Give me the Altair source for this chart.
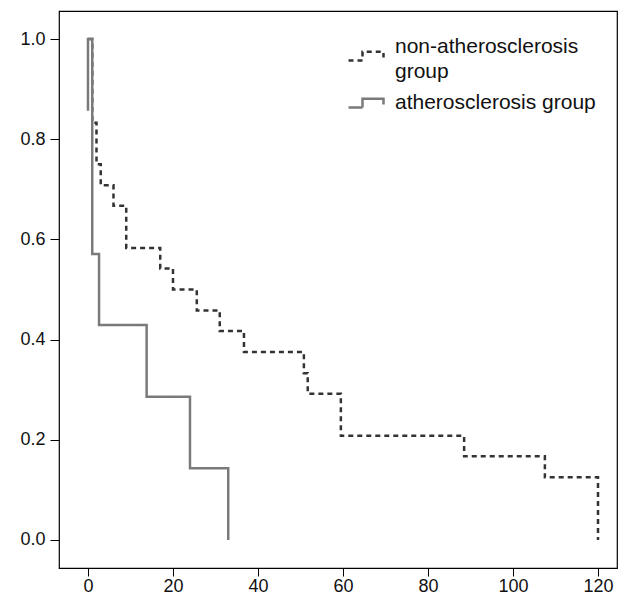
import altair as alt
import pandas as pd

# Kaplan-Meier style step data
non_times = [0, 1, 2, 3, 6, 9, 17, 20, 25.6, 31, 36.7, 50.8, 51.7, 59.5, 88.5, 107.5, 120]
non_surv = [1.0, 0.833, 0.75, 0.708, 0.667, 0.583, 0.542, 0.5, 0.458, 0.417, 0.375,
            0.333, 0.292, 0.208, 0.167, 0.125, 0.0]

ath_times = [0, 0, 1, 2.6, 13.8, 24, 33]
ath_surv = [0.857, 1.0, 0.571, 0.429, 0.286, 0.143, 0.0]

groups = ["non-atherosclerosis group", "atherosclerosis group"]
x_ticks = [0, 20, 40, 60, 80, 100, 120]
y_ticks = [0.0, 0.2, 0.4, 0.6, 0.8, 1.0]

rows = []
for i, (t, s) in enumerate(zip(non_times, non_surv)):
    rows.append({"time": t, "surv": s, "group": groups[0], "idx": i})
for i, (t, s) in enumerate(zip(ath_times, ath_surv)):
    rows.append({"time": t, "surv": s, "group": groups[1], "idx": i})
df = pd.DataFrame(rows)

# step-shaped legend symbols (unit coordinates); the first one sits between its two label lines
sym_path = "M-1,0.25 L-0.2,0.25 L-0.2,-0.25 L1,-0.25 L1,0.08"
sym_path_low = "M-1,0.77 L-0.2,0.77 L-0.2,0.27 L1,0.27 L1,0.6"
sym_expr = f"datum.value === '{groups[0]}' ? '{sym_path_low}' : '{sym_path}'"

def make_legend():
    return alt.Legend(title=None, orient="none", legendX=288, legendY=17,
                      symbolType=alt.ExprRef(expr=sym_expr), symbolSize=1225, symbolStrokeWidth=2.5,
                      labelFont="Liberation Sans", labelFontSize=21, labelColor="#111",
                      labelOffset=10, rowPadding=2, labelLimit=400,
                      labelExpr="datum.label == 'non-atherosclerosis group' ? ['non-atherosclerosis', 'group'] : datum.label")

axis_common = dict(title=None, grid=False, domain=False, tickColor="#000",
                   labelFont="Liberation Sans", labelFontSize=18, labelColor="#111")

chart = alt.Chart(df).mark_line(interpolate="step-after", strokeWidth=2.5, strokeCap="butt").encode(
    x=alt.X("time:Q", scale=alt.Scale(domain=[-6.82, 124.47], nice=False, zero=False),
            axis=alt.Axis(values=x_ticks, tickSize=8, labelPadding=1, **axis_common)),
    y=alt.Y("surv:Q", scale=alt.Scale(domain=[-0.056, 1.056], nice=False, zero=False),
            axis=alt.Axis(values=y_ticks, format=".1f", tickSize=9, labelPadding=5, **axis_common)),
    color=alt.Color("group:N", scale=alt.Scale(domain=groups, range=["#333333", "#7a7a7a"]),
                    legend=make_legend()),
    strokeDash=alt.StrokeDash("group:N", scale=alt.Scale(domain=groups, range=[[5, 4], [1, 0]]),
                              legend=make_legend()),
    order=alt.Order("idx:Q"),
).properties(
    width=558, height=557,
    background="white",
    autosize=alt.AutoSizeParams(type="none"),
    padding={"left": 51, "top": 3, "right": 1, "bottom": 26},
).configure(
    view=alt.ViewConfig(stroke="#000", strokeWidth=1.2),
    style={"guide-label": {"lineHeight": 25}},
)

chart.save("out.html", embed_options={"renderer": "svg", "actions": False})
